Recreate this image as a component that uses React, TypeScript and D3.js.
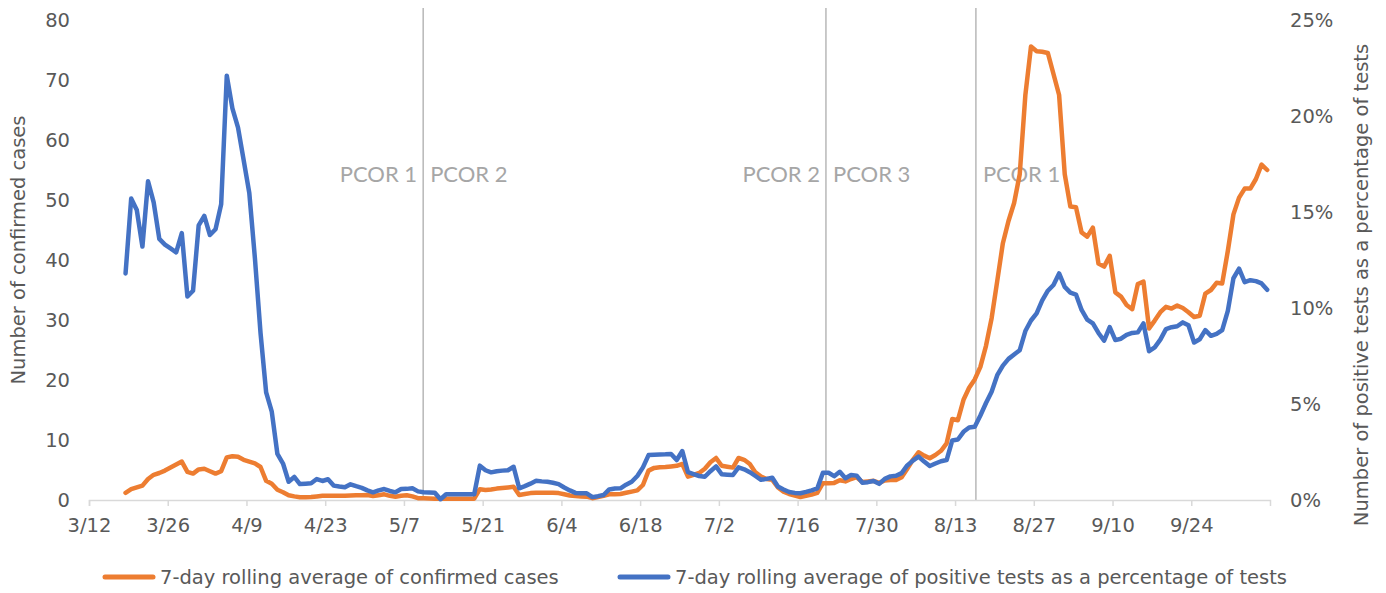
import React, { useEffect, useRef } from "react";
import * as d3 from "d3";

// daily series, first value is 3/18/2020
const startDate = "2020-03-18";

// 7-day rolling average of confirmed cases
const confirmedCases = [
  1.2, 1.8, 2.1, 2.4, 3.5, 4.2, 4.5, 4.9, 5.4, 5.9,
  6.4, 4.7, 4.4, 5.1, 5.2, 4.8, 4.4, 4.8, 7.1, 7.3,
  7.2, 6.7, 6.4, 6.1, 5.5, 3.2, 2.7, 1.7, 1.3, 0.8,
  0.6, 0.45, 0.45, 0.5, 0.6, 0.7, 0.72, 0.7, 0.72, 0.72,
  0.75, 0.78, 0.8, 0.83, 0.67, 0.8, 0.95, 0.7, 0.55, 0.7,
  0.8, 0.6, 0.3, 0.28, 0.25, 0.22, 0.22, 0.22, 0.22, 0.22,
  0.22, 0.22, 0.22, 1.8, 1.67, 1.75, 1.9, 2.0, 2.1, 2.2,
  0.83, 1.0, 1.15, 1.22, 1.22, 1.22, 1.22, 1.15, 0.95, 0.75,
  0.65, 0.6, 0.55, 0.3, 0.5, 0.7, 0.95, 0.97, 1.0, 1.2,
  1.4, 1.6, 2.5, 4.9, 5.35, 5.45, 5.5, 5.6, 5.7, 6.0,
  3.9, 4.2, 4.5, 5.2, 6.3, 7.0, 5.7, 5.55, 5.4, 7.0,
  6.7, 6.0, 4.6, 3.9, 3.5, 3.35, 2.1, 1.4, 1.0, 0.75,
  0.5, 0.7, 0.9, 1.2, 2.8, 2.8, 2.85, 3.3, 3.1, 3.5,
  3.8, 3.0, 3.1, 3.2, 2.85, 3.25, 3.33, 3.33, 3.8, 5.2,
  6.7, 7.95, 7.4, 6.95, 7.5, 8.2, 9.45, 13.5, 13.3, 16.7,
  18.7, 20.1, 22.2, 25.7, 30.3, 36.5, 42.8, 46.5, 49.5, 54.3,
  67.5, 75.6, 74.8, 74.7, 74.5, 71.0, 67.5, 54.3, 48.9, 48.8,
  44.6, 43.9, 45.4, 39.4, 38.9, 40.7, 34.6, 33.9, 32.5, 31.8,
  36.0, 36.4, 28.6, 29.9, 31.3, 32.2, 31.9, 32.4, 32.0, 31.3,
  30.5, 30.7, 34.4, 35.0, 36.2, 36.1, 41.5, 47.6, 50.4, 51.9,
  51.9, 53.5, 55.9, 55.0,
];

// 7-day rolling average of positive tests, % of tests
const positivityPct = [
  11.8, 15.7, 15.1, 13.2, 16.6, 15.5, 13.6, 13.3, 13.1, 12.9,
  13.9, 10.6, 10.9, 14.3, 14.8, 13.8, 14.1, 15.4, 22.1, 20.4,
  19.4, 17.7, 16.0, 12.6, 8.7, 5.6, 4.6, 2.4, 1.9, 0.95,
  1.2, 0.83, 0.85, 0.87, 1.09, 0.99, 1.08, 0.75, 0.7, 0.66,
  0.82, 0.72, 0.63, 0.5, 0.4, 0.5, 0.57, 0.47, 0.4, 0.57,
  0.58, 0.61, 0.45, 0.4, 0.39, 0.38, 0.04, 0.3, 0.3, 0.3,
  0.3, 0.3, 0.3, 1.79, 1.55, 1.44, 1.5, 1.53, 1.55, 1.73,
  0.61, 0.72, 0.85, 1.0, 0.97, 0.95, 0.9, 0.83, 0.65, 0.5,
  0.37, 0.35, 0.35, 0.15, 0.2, 0.26, 0.55, 0.6, 0.61, 0.8,
  0.95, 1.25, 1.7, 2.34, 2.36, 2.37, 2.38, 2.4, 2.08, 2.55,
  1.45, 1.35, 1.25, 1.21, 1.5, 1.75, 1.34, 1.32, 1.3, 1.7,
  1.6, 1.45, 1.25, 1.05, 1.1, 1.16, 0.7, 0.55, 0.42, 0.37,
  0.35, 0.42, 0.5, 0.6, 1.42, 1.42, 1.24, 1.47, 1.13, 1.3,
  1.27, 0.9, 0.93, 0.99, 0.84, 1.1, 1.23, 1.26, 1.4, 1.8,
  2.05, 2.26, 2.0, 1.77, 1.9, 2.02, 2.08, 3.1, 3.15, 3.55,
  3.78, 3.82, 4.4, 5.05, 5.64, 6.5, 7.0, 7.35, 7.58, 7.8,
  8.8, 9.35, 9.72, 10.4, 10.9, 11.2, 11.8, 11.1, 10.8, 10.7,
  9.9, 9.4, 9.2, 8.7, 8.3, 9.0, 8.33, 8.4, 8.6, 8.7,
  8.73, 9.2, 7.75, 7.95, 8.35, 8.9, 9.0, 9.05, 9.25, 9.1,
  8.2, 8.37, 8.85, 8.55, 8.65, 8.85, 9.85, 11.55, 12.05, 11.35,
  11.45, 11.4, 11.28, 10.95,
];

const xTickDates = [
  "2020-03-12", "2020-03-26", "2020-04-09", "2020-04-23", "2020-05-07",
  "2020-05-21", "2020-06-04", "2020-06-18", "2020-07-02", "2020-07-16",
  "2020-07-30", "2020-08-13", "2020-08-27", "2020-09-10", "2020-09-24",
];
const xDomain = ["2020-03-12", "2020-10-08"];
const leftTicks = [0, 10, 20, 30, 40, 50, 60, 70, 80];
const rightTicks = [0, 5, 10, 15, 20, 25];

const phaseLines = [
  { date: "2020-05-10T10:00", before: "PCOR 1", after: "PCOR 2" },
  { date: "2020-07-21T01:00", before: "PCOR 2", after: "PCOR 3" },
  { date: "2020-08-16T17:00", before: "", after: "PCOR 1" },
];

const ORANGE = "#ED7D31";
const BLUE = "#4472C4";
const TEXT = "#595959";
const FONT = "'DejaVu Sans', sans-serif";
const FS = 19.5;

const W = 1386;
const H = 593;
const plot = { left: 89, right: 1270, top: 20, bottom: 500 };

const parseDay = d3.utcParse("%Y-%m-%d");
const parseTime = d3.utcParse("%Y-%m-%dT%H:%M");

export default function App() {
  const bottomRef = useRef<SVGGElement>(null);
  const leftRef = useRef<SVGGElement>(null);
  const rightRef = useRef<SVGGElement>(null);

  const x = d3
    .scaleUtc()
    .domain(xDomain.map((d) => parseDay(d)!))
    .range([plot.left, plot.right]);
  const yLeft = d3.scaleLinear().domain([0, 80]).range([plot.bottom, plot.top]);
  const yRight = d3.scaleLinear().domain([0, 25]).range([plot.bottom, plot.top]);

  const start = parseDay(startDate)!;
  // points sit in the middle of their day
  const px = (i: number) => x(d3.utcHour.offset(d3.utcDay.offset(start, i), 12));

  const casesLine = d3
    .line<number>()
    .x((_, i) => px(i))
    .y((d) => yLeft(d));
  const pctLine = d3
    .line<number>()
    .x((_, i) => px(i))
    .y((d) => yRight(d));

  useEffect(() => {
    if (bottomRef.current) {
      const g = d3.select(bottomRef.current);
      g.call(
        d3
          .axisBottom(x)
          .tickValues(xTickDates.map((d) => parseDay(d)!))
          .tickFormat(d3.utcFormat("%-m/%-d") as any)
          .tickSize(6)
          .tickSizeOuter(6)
          .tickPadding(12)
      );
      g.select(".domain").attr("stroke", "#d9d9d9").attr("stroke-width", 1.5);
      g.selectAll(".tick line").attr("stroke", "#d9d9d9").attr("stroke-width", 1.5);
      g.selectAll(".tick text")
        .attr("fill", TEXT)
        .style("font-family", FONT)
        .style("font-size", `${FS}px`);
    }
    if (leftRef.current) {
      const g = d3.select(leftRef.current);
      g.call(d3.axisLeft(yLeft).tickValues(leftTicks).tickSize(0).tickPadding(19));
      g.select(".domain").remove();
      g.selectAll(".tick text")
        .attr("fill", TEXT)
        .style("font-family", FONT)
        .style("font-size", `${FS}px`);
    }
    if (rightRef.current) {
      const g = d3.select(rightRef.current);
      g.call(
        d3
          .axisRight(yRight)
          .tickValues(rightTicks)
          .tickSize(0)
          .tickPadding(20)
          .tickFormat((d) => `${d}%`)
      );
      g.select(".domain").remove();
      g.selectAll(".tick text")
        .attr("fill", TEXT)
        .style("font-family", FONT)
        .style("font-size", `${FS}px`);
    }
  }, []);

  return (
    <svg
      width={W}
      height={H}
      style={{ position: "absolute", left: 0, top: 0, background: "#fff" }}
    >
      <g ref={leftRef} transform={`translate(${plot.left},0)`} />
      <g ref={rightRef} transform={`translate(${plot.right},0)`} />

      {phaseLines.map((p) => {
        const lx = x(parseTime(p.date)!);
        return (
          <g key={p.date}>
            <line x1={lx} x2={lx} y1={8} y2={plot.bottom} stroke="#a6a6a6" strokeWidth={1.2} />
            {p.before && (
              <text
                x={lx - 6}
                y={182}
                textAnchor="end"
                fill="#a6a6a6"
                fontFamily="Lato, sans-serif"
                fontSize={22}
              >
                {p.before}
              </text>
            )}
            <text
              x={lx + 7}
              y={182}
              fill="#a6a6a6"
              fontFamily="Lato, sans-serif"
              fontSize={22}
            >
              {p.after}
            </text>
          </g>
        );
      })}

      <g ref={bottomRef} transform={`translate(0,${plot.bottom})`} />

      <path
        d={casesLine(confirmedCases) ?? ""}
        fill="none"
        stroke={ORANGE}
        strokeWidth={4.5}
        strokeLinejoin="round"
        strokeLinecap="round"
      />
      <path
        d={pctLine(positivityPct) ?? ""}
        fill="none"
        stroke={BLUE}
        strokeWidth={4.5}
        strokeLinejoin="round"
        strokeLinecap="round"
      />

      <text
        transform="translate(25,250) rotate(-90)"
        textAnchor="middle"
        fill={TEXT}
        fontFamily={FONT}
        fontSize={FS}
      >
        Number of confirmed cases
      </text>
      <text
        transform="translate(1368,285) rotate(-90)"
        textAnchor="middle"
        fill={TEXT}
        fontFamily={FONT}
        fontSize={FS}
      >
        Number of positive tests as a percentage of tests
      </text>

      <g fontFamily={FONT} fontSize={FS} fill={TEXT}>
        <line x1={105} x2={153} y1={577} y2={577} stroke={ORANGE} strokeWidth={5} strokeLinecap="round" />
        <text x={160} y={584}>7-day rolling average of confirmed cases</text>
        <line x1={620} x2={668} y1={577} y2={577} stroke={BLUE} strokeWidth={5} strokeLinecap="round" />
        <text x={675} y={584}>7-day rolling average of positive tests as a percentage of tests</text>
      </g>
    </svg>
  );
}
